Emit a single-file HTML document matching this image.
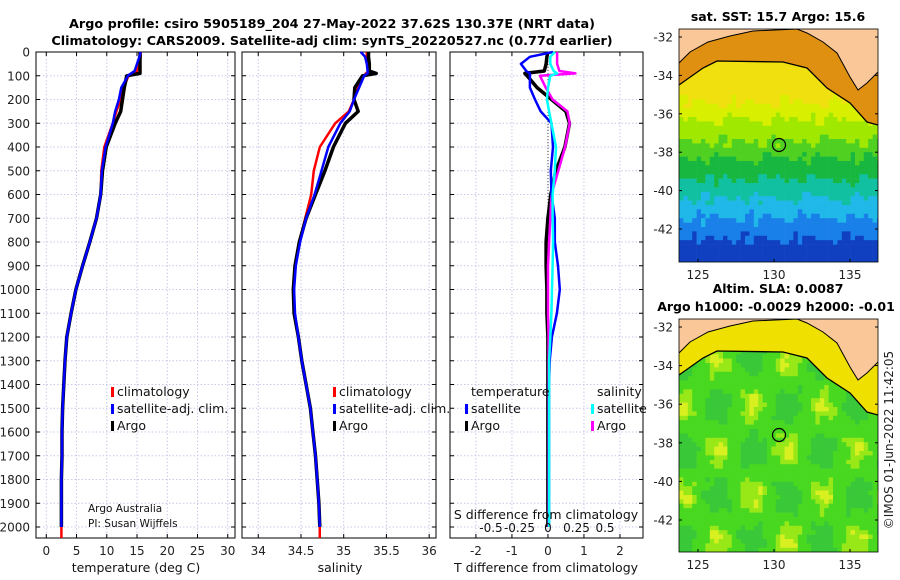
<!DOCTYPE html>
<html><head><meta charset="utf-8"><style>
body{margin:0;background:#fff}
svg{display:block;font-family:"DejaVu Sans","Liberation Sans",sans-serif}
</style></head><body>
<svg id="c" width="900" height="580" xmlns="http://www.w3.org/2000/svg">
<text x="332" y="28" text-anchor="middle" font-size="12.8" font-weight="bold">Argo profile: csiro 5905189_204 27-May-2022 37.62S 130.37E (NRT data)</text>
<text x="332" y="45" text-anchor="middle" font-size="12.8" font-weight="bold">Climatology: CARS2009. Satellite-adj clim: synTS_20220527.nc (0.77d earlier)</text>
<text x="778" y="21" text-anchor="middle" font-size="12.5" font-weight="bold">sat. SST: 15.7 Argo: 15.6</text>
<text x="778" y="293" text-anchor="middle" font-size="12.5" font-weight="bold">Altim. SLA: 0.0087</text>
<text x="776" y="311" text-anchor="middle" font-size="12.5" font-weight="bold">Argo h1000: -0.0029 h2000: -0.01</text>
<text transform="translate(893,440) rotate(-90)" text-anchor="middle" font-size="12" fill="#222">©IMOS 01-Jun-2022 11:42:05</text>
<g id="g"></g>
</svg>
<script>
// ---- data ----
const depth   = [0,20,50,80,90,100,150,200,250,300,400,500,600,700,800,900,1000,1100,1200,1300,1400,1500,1600,1700,1800,1900,2000];
const tempClim= [15.6,15.6,15.4,15.0,14.3,13.6,12.8,12.3,11.6,11.0,9.6,9.1,9.0,8.3,7.2,6.0,4.9,4.1,3.4,3.1,2.9,2.7,2.6,2.6,2.5,2.5,2.5];
const tempSat = [15.6,15.4,15.0,14.6,14.0,13.5,12.4,12.0,11.4,11.0,9.8,9.2,9.0,8.3,7.2,6.0,4.9,4.1,3.4,3.1,2.9,2.7,2.6,2.6,2.5,2.5,2.5];
const tempArgo= [15.5,15.5,15.5,15.5,15.5,13.3,12.9,12.6,12.3,11.4,9.9,9.3,9.0,8.3,7.2,6.0,4.9,4.1,3.4,3.1,2.9,2.7,2.6,2.6,2.5,2.5,2.5];
const salClim = [35.27,35.27,35.28,35.29,35.26,35.24,35.16,35.12,35.06,34.90,34.72,34.65,34.62,34.55,34.48,34.43,34.41,34.42,34.47,34.51,34.56,34.61,34.64,34.67,34.69,34.71,34.72];
const salSat  = [35.2,35.25,35.27,35.28,35.28,35.24,35.18,35.12,35.07,34.96,34.82,34.74,34.66,34.56,34.49,34.44,34.42,34.43,34.47,34.51,34.56,34.61,34.64,34.67,34.69,34.71,34.72];
const salArgo = [35.29,35.29,35.30,35.30,35.38,35.22,35.13,35.12,35.17,35.02,34.88,34.78,34.67,34.56,34.48,34.43,34.41,34.42,34.47,34.51,34.56,34.61,34.64,34.67,34.69,34.71,34.72];
const dTsat   = [0.14,-0.5,-0.75,-0.6,-0.5,-0.5,-0.5,-0.36,-0.2,0.1,0.14,0.08,0.1,0.19,0.19,0.28,0.33,0.25,0.11,0.05,0.03,0.03,0.03,0.03,0.03,0.03,0.03];
const dTargo  = [0,-0.03,-0.05,-0.1,-0.64,-0.58,-0.3,0.1,0.5,0.6,0.47,0.22,0.08,0,-0.05,-0.05,-0.03,-0.03,0,0,0,0,0,0,0,0,0];
const dSsat   = [0.06,0.02,0.02,0.05,0.08,0.02,0.0,-0.01,0.01,0.03,0.07,0.06,0.04,0.04,0.045,0.04,0.035,0.03,0.02,0.01,0.01,0.01,0.01,0.01,0.01,0.01,0.01];
const dSargo  = [0.08,0.08,0.08,0.1,0.24,-0.07,-0.02,0.04,0.17,0.19,0.15,0.09,0.03,0.02,0.01,0.0,0.0,0.0,0.005,0.005,0.005,0.005,0.005,0.005,0.005,0.005,0.005];
const depthTicks=[0,100,200,300,400,500,600,700,800,900,1000,1100,1200,1300,1400,1500,1600,1700,1800,1900,2000];
const tTicks=[0,5,10,15,20,25,30];
const sTicks=[34,34.5,35,35.5,36];
const sTickLbl=["34","34.5","35","35.5","36"];
const dtTicks=[-2,-1,0,1,2];
const dsTicks=[-0.5,-0.25,0,0.25,0.5];
const dsTickLbl=["-0.5","-0.25","0","0.25","0.5"];

const NS="http://www.w3.org/2000/svg", G=document.getElementById('g');
function mk(t,a,p){const e=document.createElementNS(NS,t);for(const k in a)e.setAttribute(k,a[k]);(p||G).appendChild(e);return e;}
const yD=d=>52+d*0.2375;
const panels=[
 {x0:36,x1:235,lo:-1.7,hi:31.2,name:'temperature-panel'},
 {x0:242,x1:436,lo:33.81,hi:36.08,name:'salinity-panel'},
 {x0:450,x1:643,lo:-2.72,hi:2.64,name:'difference-panel'}];
const sx=(p,v)=>p.x0+(v-p.lo)/(p.hi-p.lo)*(p.x1-p.x0);
const dsx=v=>548+v*114;
function line(p,xs,col,w,name,fx){
 const pts=depth.map((d,i)=>(fx?fx(xs[i]):sx(p,xs[i])).toFixed(1)+','+yD(d).toFixed(1)).join(' ');
 const e=mk('polyline',{points:pts,fill:'none',stroke:col,'stroke-width':w,'stroke-linejoin':'round'});
 
 
}
panels.forEach((p,pi)=>{
 const grp=mk('g',{});
 
 
 const ticks=pi==0?tTicks:pi==1?sTicks:dtTicks;
 ticks.forEach((t,i)=>{const x=sx(p,t);
  mk('line',{x1:x,x2:x,y1:52,y2:538,stroke:'#c8c8e8','stroke-dasharray':'1.5,2'},grp);
  mk('line',{x1:x,x2:x,y1:538,y2:534,stroke:'#000'},grp);mk('line',{x1:x,x2:x,y1:52,y2:56,stroke:'#000'},grp);
  const tx=mk('text',{x:x,y:555,'text-anchor':'middle','font-size':12,fill:'#222'},grp);
  tx.textContent=pi==1?sTickLbl[i]:String(t);
  
  });
 depthTicks.forEach(d=>{const y=yD(d);
  mk('line',{x1:p.x0,x2:p.x1,y1:y,y2:y,stroke:'#c8c8e8','stroke-dasharray':'1.5,2'},grp);
  mk('line',{x1:p.x0,x2:p.x0+4,y1:y,y2:y,stroke:'#000'},grp);mk('line',{x1:p.x1-4,x2:p.x1,y1:y,y2:y,stroke:'#000'},grp);
  if(pi==0){const tx=mk('text',{x:30,y:y+4.5,'text-anchor':'end','font-size':12,fill:'#222'},grp);tx.textContent=d;
   
   }
 });
 mk('rect',{x:p.x0,y:52,width:p.x1-p.x0,height:486,fill:'none',stroke:'#000','stroke-width':1},grp);
});
const P=panels;
line(P[0],tempClim,'#f00',2.5,'temp-climatology-line');
mk('line',{x1:sx(P[0],2.5),x2:sx(P[0],2.5),y1:yD(2000),y2:538,stroke:'#f00','stroke-width':2.5});
line(P[0],tempArgo,'#000',3.5,'temp-argo-line');
line(P[0],tempSat,'#00f',2.5,'temp-satellite-line');
line(P[1],salClim,'#f00',2.5,'salinity-climatology-line');
mk('line',{x1:sx(P[1],34.72),x2:sx(P[1],34.72),y1:yD(2000),y2:538,stroke:'#f00','stroke-width':2.5});
line(P[1],salArgo,'#000',3.5,'salinity-argo-line');
line(P[1],salSat,'#00f',2.5,'salinity-satellite-line');
mk('line',{x1:548,x2:548,y1:52,y2:yD(2000),stroke:'#444','stroke-dasharray':'1,2'});
line(P[2],dTargo,'#000',3.5,'temp-diff-argo-line');
line(P[2],dSargo,'#f0f',2.5,'salinity-diff-argo-line',dsx);
line(P[2],dTsat,'#00f',2.5,'temp-diff-satellite-line');
line(P[2],dSsat,'#0ff',2.5,'salinity-diff-satellite-line',dsx);
dsTicks.forEach((t,i)=>{const tx=mk('text',{x:dsx(t),y:532,'text-anchor':'middle','font-size':12,fill:'#111'});tx.textContent=dsTickLbl[i];
 
 });
function txt(x,y,s,fs,name,anc){const t=mk('text',{x:x,y:y,'font-size':fs,fill:'#111','text-anchor':anc||'start'});t.textContent=s;
 
 return t;}
txt(546,519,'S difference from climatology',12.5,'s-diff-axis-title','middle');
txt(136,572,'temperature (deg C)',12.5,'x-axis-title-temperature','middle');
txt(340,572,'salinity',12.5,'x-axis-title-salinity','middle');
txt(546,572,'T difference from climatology',12.5,'x-axis-title-t-diff','middle');
txt(88,512,'Argo Australia',10.5,'credit-argo-australia');
txt(88,527,'PI: Susan Wijffels',10.5,'credit-pi');
function leg(x,y,col,label,name){mk('rect',{x:x,y:y-9,width:3,height:10,fill:col});txt(x+6,y,label,12.5,name);}
leg(111,396,'#f00','climatology','legend-climatology');
leg(111,413,'#00f','satellite-adj. clim.','legend-satellite-adj');
leg(111,430,'#000','Argo','legend-argo');
leg(333,396,'#f00','climatology','legend2-climatology');
leg(333,413,'#00f','satellite-adj. clim.','legend2-satellite-adj');
leg(333,430,'#000','Argo','legend2-argo');
txt(471,396,'temperature',12.5,'legend-temperature-header');
txt(597,396,'salinity',12.5,'legend-salinity-header');
leg(465,413,'#00f','satellite','legend-t-satellite');
leg(465,430,'#000','Argo','legend-t-argo');
leg(591,413,'#0ff','satellite','legend-s-satellite');
leg(591,430,'#f0f','Argo','legend-s-argo');

// ---- maps ----
const lonTicks=[125,130,135], latTicks=[-32,-34,-36,-38,-40,-42];
const coast=[[679,63],[690,52],[708,42],[730,36],[753,31],[797,29],[807,33],[823,42],[837,53],[850,77],[858,90],[867,83],[878,72]];
const shelf=[[679,85],[703,68],[717,61],[783,62],[807,68],[827,88],[850,103],[867,122],[878,125]];
function drawMap(dy,kind){
 const x0=679,x1=878,y0=29+dy,y1=262+dy;
 const mg=mk('g',{});
 
 
 const cid='clip'+kind;const cp=mk('clipPath',{id:cid},mg);mk('rect',{x:x0,y:y0,width:x1-x0,height:y1-y0},cp);
 const inner=mk('g',{'clip-path':'url(#'+cid+')'},mg);
 const cs=4.4;
 for(let y=y0;y<y1;y+=cs){for(let x=x0;x<x1;x+=cs){
  const n=Math.sin(x*0.37+y*0.11)*0.5+Math.sin(x*0.13-y*0.29)*0.5;
  let c;
  if(kind==='sst'){const lat=-32-(y-dy-37)/19.2+n*0.4;
   c=lat>-35.3?'#f0e010':lat>-36.2?'#d8f000':lat>-37.3?'#a0e800':lat>-38.2?'#50d020':lat>-39.3?'#18b840':lat>-40.3?'#10c0a0':lat>-41.3?'#20b8e8':lat>-42.4?'#1880e8':'#1040c0';}
  else{const b=Math.sin(x*0.09)*Math.cos(y*0.07)+n*0.3;
   c=b>0.9?'#d8f020':b>0.5?'#98e818':b>-0.4?'#48d820':'#38c838';}
  mk('rect',{x:x,y:y,width:cs+0.3,height:cs+0.3,fill:c},inner);}}
 const sp=shelf.map(p=>p[0]+','+(p[1]+dy)).join(' ');
 const cpn=coast.map(p=>p[0]+','+(p[1]+dy)).join(' ');
 mk('polygon',{points:cpn+' '+shelf.slice().reverse().map(p=>p[0]+','+(p[1]+dy)).join(' '),fill:kind==='sst'?'#e09010':'#f0e000'},inner);
 mk('polygon',{points:'679,'+y0+' '+cpn+' 878,'+y0,fill:'#fac898'},inner);
 mk('polyline',{points:cpn,fill:'none',stroke:'#000','stroke-width':1},inner);
 mk('polyline',{points:sp,fill:'none',stroke:'#000','stroke-width':1.3},inner);
 mk('circle',{cx:779,cy:145+dy,r:6.5,fill:'none',stroke:'#000','stroke-width':1.2},inner);
 mk('rect',{x:x0,y:y0,width:x1-x0,height:y1-y0,fill:'none',stroke:'#000','stroke-width':0.8},mg);
 lonTicks.forEach(l=>{const x=698+(l-125)*15.2;const t=mk('text',{x:x,y:y1+17,'text-anchor':'middle','font-size':12,fill:'#222'},mg);t.textContent=l;
  
  
  mk('line',{x1:x,x2:x,y1:y1,y2:y1-3,stroke:'#000'},mg);});
 const ly0=kind==='sst'?37:327, lys=kind==='sst'?19.2:19.3;
 latTicks.forEach(l=>{const y=ly0+(-32-l)*lys;const t=mk('text',{x:673,y:y+4.5,'text-anchor':'end','font-size':12,fill:'#222'},mg);t.textContent=l;
  
  
  mk('line',{x1:x0,x2:x0+3,y1:y,y2:y,stroke:'#000'},mg);mk('line',{x1:x1,x2:x1-3,y1:y,y2:y,stroke:'#000'},mg);});
}
drawMap(0,'sst');
drawMap(290,'sla');
</script>
</body></html>
